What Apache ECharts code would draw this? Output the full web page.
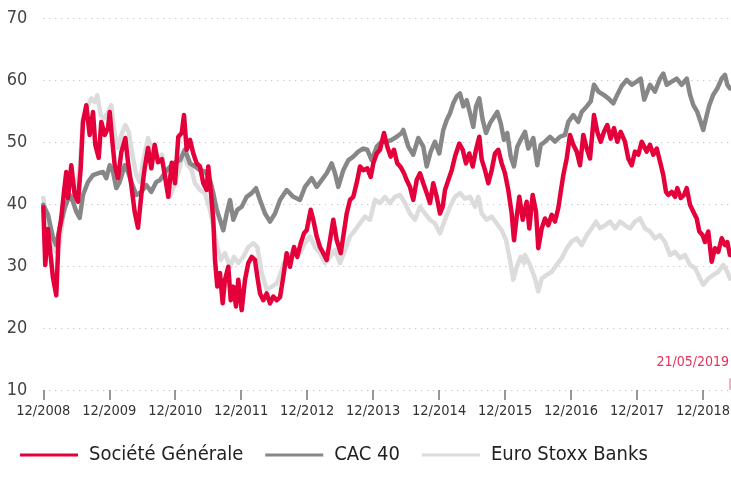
<!DOCTYPE html>
<html>
<head>
<meta charset="utf-8">
<script src="https://cdn.jsdelivr.net/npm/echarts@6/dist/echarts.min.js"></script>
<style>
html,body{margin:0;padding:0;background:#fff;}
#chart{width:731px;height:492px;}
</style>
</head>
<body>
<div id="chart"></div>
<script>
// x = months since 12/2008
const tickLabels = ['12/2008','12/2009','12/2010','12/2011','12/2012','12/2013','12/2014','12/2015','12/2016','12/2017','12/2018'];
const seriesNames = ['Société Générale', 'CAC 40', 'Euro Stoxx Banks'];
const lastDateLabel = '21/05/2019';
const lastMonth = 124.9;

const societeGenerale = [
[0,39.5],[0.36,30.2],[0.85,36],[1.35,31.6],[1.76,28.1],[2.36,25.3],[2.8,35],[3.27,37.8],[3.76,42],[4.18,45.2],
[4.49,41],[5.09,46.3],[5.71,41.5],[6.31,40.4],[6.8,45.8],[7.22,53.3],[7.82,56],[8.44,51.2],[9.04,54.9],[9.46,49.6],
[10.08,47.5],[10.55,53.3],[11.17,51.2],[11.77,52.3],[12.08,54.9],[12.5,50.7],[12.99,46.3],[13.59,44.2],[14.19,48.4],[14.92,50.7],
[15.41,46.8],[16.01,43.1],[16.63,38.7],[17.23,36.2],[17.83,41.5],[18.44,45.8],[19.05,49.1],[19.65,45.8],[20.26,49.6],[20.86,46.8],
[21.59,47.3],[21.83,46.1],[22.74,41.2],[23.36,46.7],[23.96,43.4],[24.56,50.9],[25.18,51.5],[25.59,54.4],[26.08,48.8],[26.69,50.4],
[27.29,48.2],[27.9,46.6],[28.5,46.1],[29.1,43.4],[29.72,42.3],[30.01,46.1],[30.45,42.3],[30.92,37.5],[31.23,31],[31.65,26.7],
[32.14,28.9],[32.63,24],[33.05,27.8],[33.65,29.9],[34.09,24.5],[34.56,26.7],[35.05,23.5],[35.47,27.8],[36.09,22.9],[36.69,27.8],
[37.29,30.5],[37.91,31.5],[38.51,31],[38.93,28.3],[39.42,25.6],[40.02,24.5],[40.64,25.6],[41.24,24],[41.84,25.1],[42.46,24.5],
[43.06,25],[43.66,28.3],[44.27,32.1],[44.87,29.9],[45.6,33.1],[46.2,31.5],[46.82,33.7],[47.42,35.3],[47.91,35.8],[48.64,39.1],
[49.11,37.5],[49.73,34.8],[50.33,33.1],[50.93,32.1],[51.55,31],[52.15,34.2],[52.75,37.5],[53.37,34.2],[54.1,32.1],[54.57,34.8],
[55.19,38.5],[55.79,40.7],[56.39,41.2],[57.12,43.9],[57.61,46.1],[58.21,45.5],[58.94,45.8],[59.55,44.4],[60.03,46.6],[60.65,48.2],
[61.25,48.8],[61.97,51.5],[62.57,49.3],[63.19,47.7],[63.79,48.8],[64.39,46.6],[65.01,46],[65.61,45],[66.1,43.9],[66.7,42.8],
[67.3,40.7],[67.92,43.9],[68.52,45],[69.12,43.4],[69.74,41.8],[70.34,40.2],[70.94,43.4],[71.56,41.2],[72.16,38.5],[72.65,39.6],
[73.07,42.3],[73.67,43.9],[74.29,45.5],[74.89,47.7],[75.67,49.8],[76.29,48.8],[76.89,46.6],[77.49,48.2],[78.11,46.1],[78.71,48.8],
[79.31,50.9],[79.75,47.2],[80.35,45.5],[80.95,43.4],[81.56,45.5],[82.16,48.2],[82.76,48.8],[83.38,46.6],[83.98,45],[84.58,42.3],
[85.2,38.5],[85.62,34.2],[86.11,38],[86.59,41.2],[87.21,37.5],[87.93,40.4],[88.4,36.1],[89.02,41.5],[89.62,38.8],[90.04,32.9],
[90.66,36.1],[91.26,37.7],[91.86,36.6],[92.48,38.3],[93.08,37.2],[93.68,39.4],[94.12,42],[94.59,44.7],[95.21,47.4],[95.81,51.2],
[96.41,49.6],[97.03,48.5],[97.63,46.3],[98.23,51.2],[98.85,49],[99.45,47.4],[100.17,54.4],[100.77,51.7],[101.39,50.1],[101.99,51.7],
[102.59,52.8],[103.21,50.6],[103.81,52.3],[104.41,50.1],[105.03,51.7],[105.81,50.1],[106.41,47.4],[107.03,46.3],[107.63,48.5],[108.23,48],
[108.85,50.1],[109.14,50.1],[109.76,48.5],[110.36,49.6],[110.96,48],[111.58,49],[112.18,46.9],[112.78,44.7],[113.27,42],[113.69,41.5],
[114.31,42],[114.91,41.2],[115.33,42.6],[115.95,41],[116.55,41.5],[117.04,42.6],[117.64,39.9],[118.24,38.8],[118.85,37.7],[119.33,35.6],
[119.94,35],[120.36,33.9],[120.96,35.6],[121.58,30.7],[122.18,32.9],[122.78,32.3],[123.4,34.5],[124,33.4],[124.42,33.9],[124.9,31.8]
];

const cac40 = [
[0,39.9],[0.85,38.3],[1.76,34.6],[2.36,33.4],[2.98,36.2],[3.89,39.4],[4.8,41.5],[5.4,40.4],[6,38.8],[6.62,37.8],
[7.22,41.5],[8.13,43.6],[9.04,44.7],[9.95,45],[10.86,45.2],[11.46,44.2],[12.08,46.3],[12.68,45.2],[13.28,42.6],[13.9,43.6],
[14.81,46.3],[15.41,45.2],[16.01,43.6],[16.92,41.5],[17.83,42],[18.74,43.1],[19.65,42],[20.55,43.6],[21.23,43.9],[22.45,45.5],
[23.65,46.6],[24.87,47.1],[25.78,48.8],[26.69,46.6],[27.6,46.1],[28.5,45.5],[29.41,45.3],[30.32,43.9],[30.92,41.8],[31.54,39.1],
[32.14,37.5],[32.74,35.8],[33.36,38.5],[33.96,40.7],[34.56,37.5],[35.29,39.1],[36.09,39.6],[37,41.2],[37.91,41.8],[38.69,42.6],
[39.42,40.7],[40.33,38.5],[41.24,37.2],[42.15,38.5],[43.06,40.7],[44.27,42.3],[45.48,41.2],[46.69,40.7],[47.6,42.8],[48.82,44.2],
[49.73,42.8],[50.64,43.9],[51.55,45],[52.46,46.6],[53.06,45],[53.66,42.8],[54.57,45.5],[55.48,47.1],[56.39,47.7],[57.3,48.5],
[58.21,49],[58.94,48.8],[59.74,47.1],[60.65,49.3],[61.55,50.1],[62.46,50.1],[63.37,50.4],[64.28,50.9],[65.19,51.5],[65.48,52],
[66.39,49.3],[67.3,48],[68.21,50.7],[69.12,49.3],[69.74,46.1],[70.47,48.5],[71.25,50.1],[72.03,48.2],[72.76,52],[73.38,53.6],
[73.98,54.7],[74.58,56.3],[75.2,57.4],[75.8,57.9],[76.4,55.8],[77.02,56.8],[77.62,54.7],[78.22,52.5],[78.71,55.8],[79.31,57.1],
[79.93,53.6],[80.53,51.5],[81.26,53.1],[81.98,54.1],[82.58,54.9],[83.2,53.1],[83.8,50.4],[84.4,51.5],[85.02,47.7],[85.62,46.1],
[86.22,49.3],[86.84,50.4],[87.62,51.7],[88.22,49],[89.13,50.7],[89.86,46.3],[90.48,49.6],[91.26,50.1],[92.17,50.9],[93.08,50.1],
[93.99,50.9],[94.9,51.2],[95.5,53.3],[96.41,54.4],[97.32,53.3],[97.93,54.9],[98.85,55.8],[99.57,56.6],[100.17,59.3],[100.96,58.2],
[101.87,57.7],[102.78,57.1],[103.69,56.3],[104.41,57.7],[105.21,59.1],[106.12,60.1],[107.03,59.3],[107.94,59.8],[108.67,60.3],[109.3,56.9],
[110.36,59.3],[111.27,58.2],[112.18,60.3],[112.78,61.1],[113.4,59.3],[114.31,59.8],[115.22,60.3],[116.12,59.3],[117.04,60.3],[117.64,57.7],
[118.24,56],[118.96,54.9],[119.58,53.3],[120.05,52],[120.54,53.9],[121.14,56],[121.87,57.7],[122.6,58.7],[123.4,60.3],[124,60.9],
[124.42,59.3],[124.9,58.7]
];

const euroStoxxBanks = [
[0,41],[0.55,37.8],[1.46,33.9],[2.36,32.3],[2.98,33.9],[3.58,37.8],[4.49,42],[5.4,44.2],[6,42],[6.62,45.8],
[7.22,53.9],[8.13,56],[8.73,57.1],[9.35,56.5],[9.82,57.6],[10.44,54.4],[11.04,53.9],[11.77,54.9],[12.37,56],[12.99,51.2],
[13.59,49.1],[14.19,51.2],[14.92,52.8],[15.53,51.7],[16.13,48.4],[16.92,44.7],[17.54,43.6],[18.14,46.8],[19.05,50.7],[19.95,48.4],
[20.86,46.8],[21.59,48],[22.14,45],[23.05,41.2],[23.96,43.4],[24.87,46.1],[25.59,48.8],[26.08,46.6],[26.99,45.5],[27.59,43.4],
[28.5,42.3],[29.41,41.8],[30.32,39.1],[30.92,36.4],[31.65,33.1],[32.27,31],[33.05,32.1],[33.96,29.9],[34.69,31.5],[35.47,30.5],
[36.38,31.5],[37.29,33.1],[38.2,33.7],[38.93,33.1],[39.73,28.9],[40.64,26.2],[41.55,26.7],[42.46,27.2],[43.18,28.9],[43.78,30.5],
[44.27,31],[45.48,32.6],[46.69,32.1],[47.6,33.7],[48.51,34.8],[49.42,33.1],[50.33,32.1],[51.24,30.5],[52.15,31.5],[53.06,32.6],
[53.97,30.5],[54.88,32.6],[55.79,34.8],[56.7,35.8],[57.61,36.9],[58.52,38],[59.43,37.5],[60.34,40.7],[61.25,40.2],[62.16,41.2],
[63.06,40.2],[63.97,41.2],[64.88,41.5],[65.79,40.2],[66.7,38.5],[67.61,37.5],[68.52,39.6],[69.43,38.5],[70.34,37.5],[71.25,36.9],
[72.16,35.3],[73.07,37.5],[73.98,39.6],[74.89,41.2],[75.8,41.8],[76.71,40.9],[77.62,41.2],[78.53,39.6],[79.13,41.2],[79.75,38.5],
[80.66,37.5],[81.56,38],[82.47,36.9],[83.38,35.8],[84.17,34.2],[84.89,31],[85.49,27.8],[86.11,29.9],[86.84,31.5],[87.46,30.5],
[87.62,31.8],[88.53,30.2],[89.44,28],[90.04,25.9],[90.66,28],[91.57,28.6],[92.48,29.1],[93.39,30.2],[94.3,31.3],[95.21,32.9],
[96.12,34],[97.03,34.5],[97.93,33.4],[98.85,35],[99.75,36.1],[100.54,37.2],[101.27,36.1],[102.18,36.6],[103.09,37.2],[104,36.1],
[104.91,37.2],[105.81,36.6],[106.72,36.1],[107.63,37.2],[108.54,37.7],[109.45,36.1],[110.36,35.6],[111.27,34.5],[112.18,35],[113.09,33.9],
[114,31.8],[114.91,32.3],[115.82,31.3],[116.73,31.8],[117.64,30.2],[118.55,29.7],[119.46,28],[120.05,27],[120.96,28],[121.87,28.6],
[122.78,29.1],[123.69,30.2],[124.42,29.1],[124.9,28]
];

const colors = ['#e4003a', '#878787', '#dcdcdc'];
const FONT = '"DejaVu Sans Condensed", "Liberation Sans Narrow", Roboto, sans-serif';

const chart = echarts.init(document.getElementById('chart'), null, {renderer: 'canvas'});
const pxPerMonth = 65.97 / 12;
const axisMax = 132;
const rightPad = 731 - (43.3 + axisMax * pxPerMonth);

function line(name, data, color, z) {
  return {
    name: name, type: 'line', data: data, showSymbol: false, symbol: 'none',
    lineStyle: {color: color, width: 4.5, join: 'round', cap: 'round'},
    itemStyle: {color: color}, z: z, animation: false, clip: false
  };
}

const sg = line(seriesNames[0], societeGenerale, colors[0], 5);
sg.markLine = {
  silent: true, symbol: 'none', animation: false,
  lineStyle: {color: '#f29ab0', width: 1.5, type: 'solid'},
  label: {show: false},
  data: [[{coord: [lastMonth, 10]}, {coord: [lastMonth, 11.9]}]]
};

chart.setOption({
  animation: false,
  backgroundColor: '#fff',
  textStyle: {fontFamily: FONT},
  grid: {left: 43.3, right: rightPad, top: 18.5, bottom: 102, containLabel: false, outerBoundsMode: 'none'},
  xAxis: {
    type: 'value', min: 0, max: axisMax, interval: 12,
    axisLine: {show: false},
    axisTick: {show: true, length: 10, lineStyle: {color: '#777', width: 1.5}},
    splitLine: {show: false},
    axisLabel: {
      margin: 14, color: '#333', fontSize: 14.5, fontFamily: FONT, showMinLabel: true, hideOverlap: false,
      formatter: function (v) { const i = Math.round(v / 12); return (v % 12 === 0 && tickLabels[i]) ? tickLabels[i] : ''; }
    }
  },
  yAxis: {
    type: 'value', min: 10, max: 70, interval: 10,
    axisLine: {show: false}, axisTick: {show: false},
    splitLine: {show: true, lineStyle: {color: '#b5b5b5', type: [1, 5], width: 1}},
    axisLabel: {margin: 16, color: '#444', fontSize: 18, fontFamily: FONT}
  },
  legend: {
    left: 15, bottom: 22, itemWidth: 58, itemHeight: 3, itemGap: 22, icon: 'rect',
    textStyle: {fontSize: 20, color: '#222', fontFamily: FONT, padding: [0, 0, 0, 6]},
    data: seriesNames
  },
  graphic: [{
    type: 'text', right: 2, top: 355,
    style: {text: lastDateLabel, fill: '#e4325a', font: '14px ' + FONT}
  }],
  series: [
    line(seriesNames[2], euroStoxxBanks, colors[2], 1),
    line(seriesNames[1], cac40, colors[1], 2),
    sg
  ]
});
</script>
</body>
</html>
